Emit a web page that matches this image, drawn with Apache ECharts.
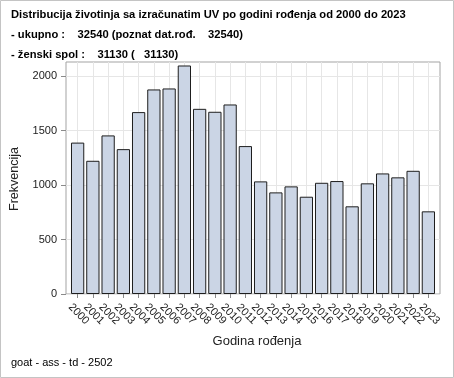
<!DOCTYPE html>
<html>
<head>
<meta charset="utf-8">
<script src="https://cdn.jsdelivr.net/npm/echarts@6/dist/echarts.min.js"></script>
<style>
  html, body { margin: 0; padding: 0; background: #fff; }
  #chart { width: 454px; height: 378px; }
</style>
</head>
<body>
<div id="chart"></div>
<script>
// data
const years = ['2000', '2001', '2002', '2003', '2004', '2005', '2006', '2007', '2008', '2009', '2010', '2011',
  '2012', '2013', '2014', '2015', '2016', '2017', '2018', '2019', '2020', '2021', '2022', '2023']
const counts = [1390, 1223, 1456, 1330, 1670, 1878, 1887, 2098, 1700, 1673, 1740, 1358,
  1034, 933, 988, 893, 1021, 1037, 805, 1016, 1107, 1071, 1131, 759]
const yTicks = [0, 500, 1000, 1500, 2000]
const yMax = 2130

const titleLines = [
  'Distribucija životinja sa izračunatim UV po godini rođenja od 2000 do 2023',
  '- ukupno :    32540 (poznat dat.rođ.    32540)',
  '- ženski spol :    31130 (   31130)'
]
const yName = 'Frekvencija'
const xName = 'Godina rođenja'
const footer = 'goat - ass - td - 2502'

const font = 'Arial, "Liberation Sans", sans-serif'
const frameColor = '#a3a3a3'
const gridColor = '#e6e6e6'

const chart = echarts.init(document.getElementById('chart'), null, { renderer: 'canvas' })

const option = {
  backgroundColor: '#fff',
  animation: false,
  textStyle: { fontFamily: font },
  grid: [
    // frame + horizontal grid lines
    { left: 66, right: 14, top: 62, bottom: 84, show: true, borderColor: frameColor, borderWidth: 1, backgroundColor: 'transparent' },
    // bars, slightly inset like the original
    { left: 70, right: 18, top: 62, bottom: 84 }
  ],
  xAxis: [
    { gridIndex: 0, type: 'value', min: 0, max: 1, show: false },
    {
      gridIndex: 1,
      type: 'category',
      data: years,
      boundaryGap: true,
      axisLine: { show: false },
      axisTick: { show: true, alignWithLabel: true, length: 4, lineStyle: { color: '#8a8a8a' } },
      splitLine: { show: true, alignWithLabel: true, lineStyle: { color: gridColor } },
      axisLabel: {
        interval: 0,
        rotate: -45,
        align: 'center',
        verticalAlign: 'middle',
        margin: 19,
        padding: [0, 0, 0, 3],
        fontSize: 11,
        color: '#222',
        fontFamily: font
      }
    }
  ],
  yAxis: [
    {
      gridIndex: 0,
      type: 'value',
      min: 0,
      max: yMax,
      interval: 500,
      axisLine: { show: false },
      axisTick: { show: true, length: 5, customValues: yTicks, lineStyle: { color: '#8a8a8a' } },
      axisLabel: {
        customValues: yTicks,
        formatter: v => String(v),
        fontSize: 11,
        color: '#222',
        margin: 9,
        fontFamily: font
      },
      splitLine: { show: true, lineStyle: { color: gridColor } }
    },
    { gridIndex: 1, type: 'value', min: 0, max: yMax, show: false }
  ],
  series: [
    {
      type: 'bar',
      xAxisIndex: 1,
      yAxisIndex: 1,
      data: counts,
      barWidth: '87%',
      itemStyle: { color: '#cbd5e5', borderColor: '#1e1e1e', borderWidth: 1 }
    }
  ],
  graphic: [
    {
      type: 'rect',
      silent: true,
      shape: { x: 0.5, y: 0.5, width: 453, height: 377 },
      style: { fill: 'none', stroke: '#c4c4c4', lineWidth: 1 }
    },
    ...titleLines.map((t, i) => ({
      type: 'text',
      left: 11,
      top: 9 + i * 20,
      style: { text: t, font: 'bold 11.2px ' + font, fill: '#000' }
    })),
    {
      type: 'text',
      x: 15,
      y: 179,
      rotation: Math.PI / 2,
      style: { text: yName, font: '12.5px ' + font, fill: '#222', align: 'center', verticalAlign: 'middle' }
    },
    {
      type: 'text',
      x: 257,
      y: 341,
      style: { text: xName, font: '13px ' + font, fill: '#222', align: 'center', verticalAlign: 'middle' }
    },
    {
      type: 'text',
      left: 11,
      top: 357,
      style: { text: footer, font: '11px ' + font, fill: '#000' }
    }
  ]
}

chart.setOption(option)
</script>
</body>
</html>
